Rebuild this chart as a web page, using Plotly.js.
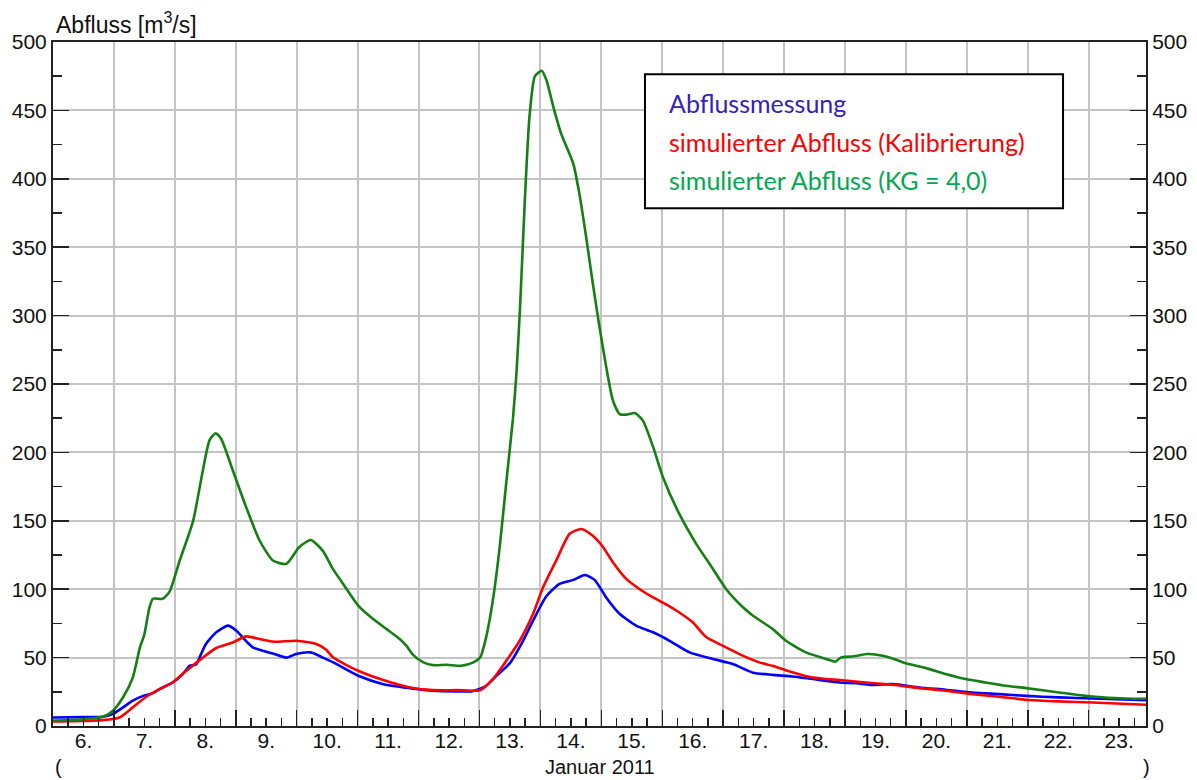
<!DOCTYPE html>
<html>
<head>
<meta charset="utf-8">
<script src="https://cdn.plot.ly/plotly-3.0.1.min.js"></script>
<style>html,body{margin:0;padding:0;background:#fff;}#chart{width:1197px;height:780px;}</style>
</head>
<body>
<div id="chart"></div>
<script>
// Days in January 2011 (d.0 = start of the day)
const measuredDay = [6.0,6.5,6.82,6.98,7.15,7.31,7.48,7.64,7.75,7.97,8.13,8.24,8.35,8.43,8.51,8.68,8.87,9.01,9.17,9.28,9.44,9.63,9.83,9.99,10.23,10.43,10.6,11.01,11.42,11.86,12.24,12.62,12.87,13.0,13.11,13.28,13.5,13.7,13.88,14.1,14.32,14.54,14.73,14.89,15.08,15.3,15.57,15.85,16.12,16.45,16.83,17.16,17.49,17.81,18.14,18.47,18.91,19.18,19.45,19.78,20.22,20.65,21.09,21.53,21.97,22.51,23.06,23.94];
const measuredQ = [6.2,6.5,6.7,8.7,13.6,18.5,22,24,27,32,38,44,45,52.6,60,68.5,73.4,69.7,62,57.5,55,52.6,50,52.6,53.8,50,46.5,36.7,30.6,27.7,25.8,25.3,25.3,27,29.4,36.8,46,61,77,95,104,106.8,110.4,106.8,94,82,73.4,68.5,62.3,53.8,49,45.3,39,37.4,36.2,34.3,31.8,31.3,30,30.6,28.2,26.5,24.5,23.3,22,20.9,20.1,18.9];

const calibDay = [6.0,6.82,7.09,7.31,7.53,7.75,7.97,8.19,8.46,8.68,8.95,9.17,9.39,9.63,9.99,10.32,10.48,10.6,11.01,11.42,11.86,12.24,12.62,13.01,13.22,13.44,13.66,13.88,14.04,14.26,14.48,14.67,14.86,15.03,15.19,15.41,15.63,15.85,16.07,16.28,16.5,16.72,16.99,17.32,17.59,17.81,18.09,18.47,18.91,19.34,19.78,20.22,20.65,21.09,21.53,21.97,22.51,23.06,23.94];
const calibQ = [3.3,4.3,6.2,13.6,21.4,27,32,40.4,50,57,61,65.5,63.6,61.6,62.3,60,56,50,40.4,33.6,28.2,26.2,26.2,26.2,34.3,47.7,62.3,82,101,121,140.5,144,139,130.7,119.7,107.5,100,94,88.7,83,75.8,65,58.7,51.4,46.5,44,39.9,35.5,33.6,31.8,30.1,27.7,25.8,23.3,21.4,19.2,18,17.2,15.5];

const kgDay = [6.0,6.4,6.6,6.82,6.98,7.15,7.31,7.43,7.5,7.58,7.64,7.8,7.91,8.08,8.3,8.46,8.57,8.67,8.76,8.95,9.17,9.39,9.61,9.83,10.04,10.23,10.43,10.59,10.76,11.01,11.26,11.47,11.69,11.8,11.91,12.08,12.24,12.46,12.7,12.9,13.01,13.11,13.22,13.33,13.44,13.55,13.61,13.67,13.74,13.82,13.91,14.02,14.1,14.21,14.34,14.54,14.64,14.75,14.86,14.97,15.08,15.19,15.3,15.41,15.55,15.68,15.85,16.01,16.28,16.56,16.83,17.05,17.32,17.49,17.81,18.03,18.36,18.69,18.84,18.93,19.15,19.37,19.62,19.78,20.0,20.33,20.65,20.98,21.31,21.64,21.97,22.51,23.06,23.61,23.94];
const kgQ = [4,4.5,5.5,6.7,11,21,35.5,58,67,86,93,93,98,121,150,187,209,214,210,187,160,135.6,121,118.5,130.7,136,128,115,104,88,78,71,63.6,58.7,52,46.5,44.5,44.8,44,46.5,50,65,92,130,178,225,260,310,380,445,475,479,472,453,433,411,389,357.6,323.5,291.7,262.5,238,228,227.6,228.8,223.4,204,182,155,133,115,100,87,80.6,71,62.3,53.8,49,47,50,51,52.6,51.4,49.4,45.8,42.3,38,34.3,31.8,29.4,27.7,24.5,21.6,20.1,19.9];

const dayTickVals = [6.5,7.5,8.5,9.5,10.5,11.5,12.5,13.5,14.5,15.5,16.5,17.5,18.5,19.5,20.5,21.5,22.5,23.5];
const dayTickText = ["6.","7.","8.","9.","10.","11.","12.","13.","14.","15.","16.","17.","18.","19.","20.","21.","22.","23."];
const dayBoundaries = [7,8,9,10,11,12,13,14,15,16,17,18,19,20,21,22,23];
const qTicks = [0,50,100,150,200,250,300,350,400,450,500];

const seriesNames = ["Abflussmessung","simulierter Abfluss (Kalibrierung)","simulierter Abfluss (KG = 4,0)"];
const legendColors = ["#3322bb", "#ff0000", "#00a850"];

const xRange = [6, 23.94];
const font = "Liberation Sans, Arial, sans-serif";
const tickFont = {family: font, size: 21, color: '#111'};

// green on x2 (carries the day labels), red on y2 (carries the right axis), blue on x/y
const traces = [
  {x: kgDay, y: kgQ, xaxis: 'x2', yaxis: 'y', name: seriesNames[2], mode: 'lines', line: {color: '#148014', width: 2.6, shape: 'spline', smoothing: 0.6}},
  {x: calibDay, y: calibQ, xaxis: 'x', yaxis: 'y2', name: seriesNames[1], mode: 'lines', line: {color: '#ff0000', width: 2.6, shape: 'spline', smoothing: 0.6}},
  {x: measuredDay, y: measuredQ, xaxis: 'x', yaxis: 'y', name: seriesNames[0], mode: 'lines', line: {color: '#0000ff', width: 2.6, shape: 'spline', smoothing: 0.6}}
];

const axisCommon = {linecolor: '#222', linewidth: 2, zeroline: false, tickcolor: '#222', tickwidth: 1.5};
const minorX = {dtick: 0.25, tick0: 0, ticks: 'inside', ticklen: 8, tickcolor: '#222', tickwidth: 1.5, showgrid: false};
const minorY = {dtick: 25, tick0: 0, ticks: 'inside', ticklen: 9, tickcolor: '#222', tickwidth: 1.5, showgrid: false};

const legendY = [0.9108, 0.8538, 0.7982];

const layout = {
  width: 1197, height: 780,
  margin: {l: 53, r: 51, t: 42, b: 54},
  paper_bgcolor: '#fff', plot_bgcolor: '#fff',
  showlegend: false,
  font: {family: font, size: 21, color: '#111'},
  xaxis: Object.assign({}, axisCommon, {
    range: xRange, showline: true, mirror: true,
    tickmode: 'array', tickvals: dayBoundaries, ticks: 'inside', ticklen: 16,
    showticklabels: false, showgrid: true, gridcolor: '#c4c4c4', gridwidth: 2,
    minor: minorX
  }),
  xaxis2: {
    overlaying: 'x', anchor: 'y', side: 'bottom', range: xRange,
    tickmode: 'array', tickvals: dayTickVals, ticktext: dayTickText,
    ticks: '', showgrid: false, showline: false, zeroline: false,
    tickfont: tickFont
  },
  yaxis: Object.assign({}, axisCommon, {
    range: [0, 500], showline: true,
    tickmode: 'array', tickvals: qTicks, ticks: 'inside', ticklen: 16,
    showgrid: true, gridcolor: '#c4c4c4', gridwidth: 2,
    minor: minorY, tickfont: tickFont
  }),
  yaxis2: Object.assign({}, axisCommon, {
    overlaying: 'y', side: 'right', anchor: 'x', range: [0, 500], showline: true,
    tickmode: 'array', tickvals: qTicks, ticks: 'inside', ticklen: 16,
    showgrid: false, minor: minorY, tickfont: tickFont
  }),
  shapes: [
    {type: 'rect', xref: 'paper', yref: 'paper', x0: 0.5416, x1: 0.9241, y0: 0.757, y1: 0.953,
     fillcolor: '#ffffff', line: {color: '#000', width: 2}, layer: 'above'}
  ],
  annotations: [
    {xref: 'paper', yref: 'paper', x: 0.001, y: 1.0, xanchor: 'left', yanchor: 'bottom', yshift: 2,
     text: 'Abfluss [m<sup>3</sup>/s]', showarrow: false, font: {family: font, size: 23, color: '#111'}},
    {xref: 'paper', yref: 'paper', x: 0.5, y: 0, yanchor: 'middle', yshift: -41,
     text: 'Januar 2011', showarrow: false, font: {family: font, size: 20, color: '#111'}},
    {xref: 'paper', yref: 'paper', x: 0, y: 0, xanchor: 'left', yanchor: 'middle', yshift: -41,
     text: '(', showarrow: false, font: {family: font, size: 20, color: '#111'}},
    {xref: 'paper', yref: 'paper', x: 1, y: 0, xanchor: 'center', yanchor: 'middle', yshift: -41,
     text: ')', showarrow: false, font: {family: font, size: 20, color: '#111'}}
  ]
};

for (let i = 0; i < 3; i++) {
  layout.annotations.push({
    xref: 'paper', yref: 'paper', x: 0.5617, y: legendY[i], xanchor: 'left', yanchor: 'middle', align: 'left',
    showarrow: false, text: seriesNames[i],
    font: {family: 'Lato, Noto Sans, sans-serif', size: 25, color: legendColors[i]}
  });
}

Plotly.newPlot('chart', traces, layout, {displayModeBar: false, staticPlot: true});
</script>
</body>
</html>
